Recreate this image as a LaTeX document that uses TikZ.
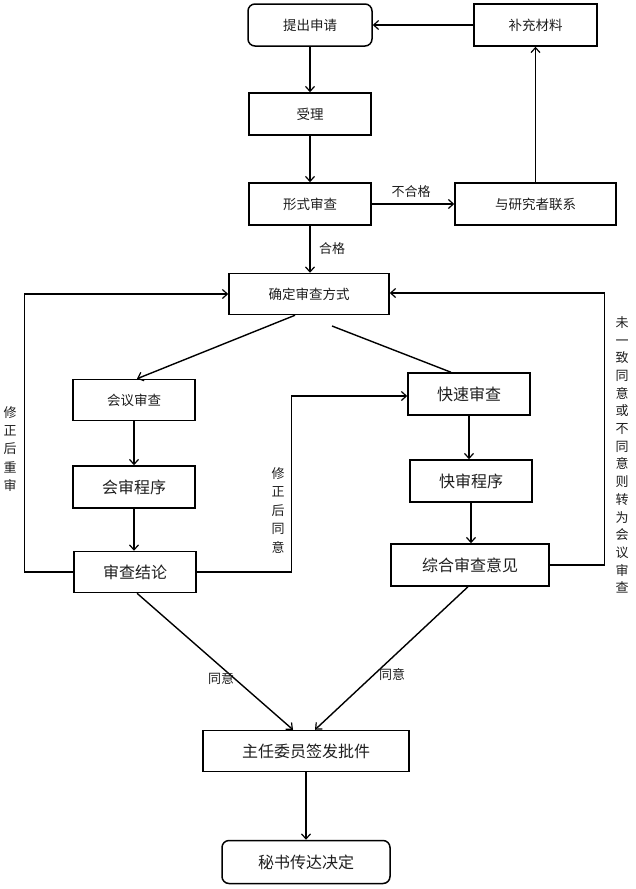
\documentclass[tikz,border=0pt]{standalone}
\usepackage{fontspec}
\setmainfont{Noto Sans CJK SC}
\usetikzlibrary{arrows.meta}
\definecolor{txt}{HTML}{1E1E1E}
\tikzset{
  box/.style={draw=black, line width=1.5pt, rectangle, inner sep=0pt, text=txt, font=\fontsize{13.5}{15}\selectfont},
  bigtext/.style={font=\fontsize{16}{18}\selectfont},
  rbox/.style={box, rounded corners=7pt},
  arr/.style={draw=black, line width=1.4pt, -{Straight Barb[length=5pt,width=9pt,line width=1.2pt]}},
  ln/.style={draw=black, line width=1.4pt},
  lab/.style={text=txt, inner sep=0pt, font=\fontsize{13}{15}\selectfont},
  vlab/.style={lab, align=center},
}
\begin{document}
\begin{tikzpicture}[x=1pt,y=-1pt]
\useasboundingbox (0,0) rectangle (635,889);
\fill[white] (0,0) rectangle (635,889);

\node[rbox, minimum width=124pt, minimum height=42pt] (tjsq) at (310,25) {提出申请};
\node[box, minimum width=123pt, minimum height=42pt] (bc) at (535.5,25) {补充材料};
\node[box, minimum width=122pt, minimum height=42pt] (sl) at (310,114) {受理};
\node[box, minimum width=122pt, minimum height=42pt] (xscs) at (310,204) {形式审查};
\node[box, minimum width=161pt, minimum height=42pt] (lx) at (535.5,204) {与研究者联系};
\node[box, minimum width=160pt, minimum height=41pt] (qd) at (309,294) {确定审查方式};
\node[box, minimum width=122pt, minimum height=41pt] (hy) at (134,400) {会议审查};
\node[box, bigtext, minimum width=122pt, minimum height=42pt] (ks) at (469,394) {快速审查};
\node[box, bigtext, minimum width=122pt, minimum height=42pt] (hs) at (134,487) {会审程序};
\node[box, bigtext, minimum width=122pt, minimum height=42pt] (kc) at (471,481) {快审程序};
\node[box, bigtext, minimum width=122pt, minimum height=41pt] (jl) at (135,572) {审查结论};
\node[box, bigtext, minimum width=158pt, minimum height=42pt] (zh) at (470,565) {综合审查意见};
\node[box, bigtext, minimum width=206pt, minimum height=41pt] (zr) at (306,751) {主任委员签发批件};
\node[rbox, bigtext, minimum width=168pt, minimum height=43pt] (ms) at (306,862) {秘书传达决定};

% top part
\draw[arr] (tjsq.south) -- (tjsq.south |- sl.north);
\draw[arr] (sl.south) -- (sl.south |- xscs.north);
\draw[arr] (xscs.south) -- (xscs.south |- qd.north);
\draw[arr] (xscs.east) -- (lx.west);
\draw[arr] (lx.north) -- (lx.north |- bc.south);
\draw[arr] (bc.west) -- (tjsq.east);
\node[lab] (lbhg) at (411,192) {不合格};
\node[lab] (lhg) at (332,249) {合格};

% branching
\draw[arr] ([xshift=-14pt]qd.south) -- ([xshift=3pt]hy.north);
\coordinate (ksstart) at (332,326);
\draw[ln] (ksstart) -- ([xshift=-18pt]ks.north);

\draw[arr] (hy.south) -- (hy.south |- hs.north);
\draw[arr] (hs.south) -- (hs.south |- jl.north);
\draw[arr] (ks.south) -- (ks.south |- kc.north);
\draw[arr] (kc.south) -- (kc.south |- zh.north);

% loops
\draw[arr] (jl.west) -- ++(-49,0) |- (qd.west);
\draw[arr] (jl.east) -- ++(95,0) |- ([yshift=-2pt]ks.west);
\draw[arr] (zh.east) -- ++(55,0) |- ([yshift=1pt]qd.east);

\node[vlab, font=\fontsize{13}{18.3}\selectfont] (lxz) at (10,449) {修\\正\\后\\重\\审};
\node[vlab, font=\fontsize{13}{18.5}\selectfont] (lxt) at (278,510) {修\\正\\后\\同\\意};
\node[vlab, font=\fontsize{13}{17.7}\selectfont] (lwy) at (622,455) {未\\一\\致\\同\\意\\或\\不\\同\\意\\则\\转\\为\\会\\议\\审\\查};

% bottom
\draw[arr] ([xshift=2pt]jl.south) -- ([xshift=-13pt]zr.north);
\draw[arr] ([xshift=-2pt]zh.south) -- ([xshift=9pt]zr.north);
\node[lab] (lty1) at (221,679) {同意};
\node[lab] (lty2) at (392,675) {同意};
\draw[arr] (zr.south) -- (zr.south |- ms.north);
\end{tikzpicture}
\end{document}
